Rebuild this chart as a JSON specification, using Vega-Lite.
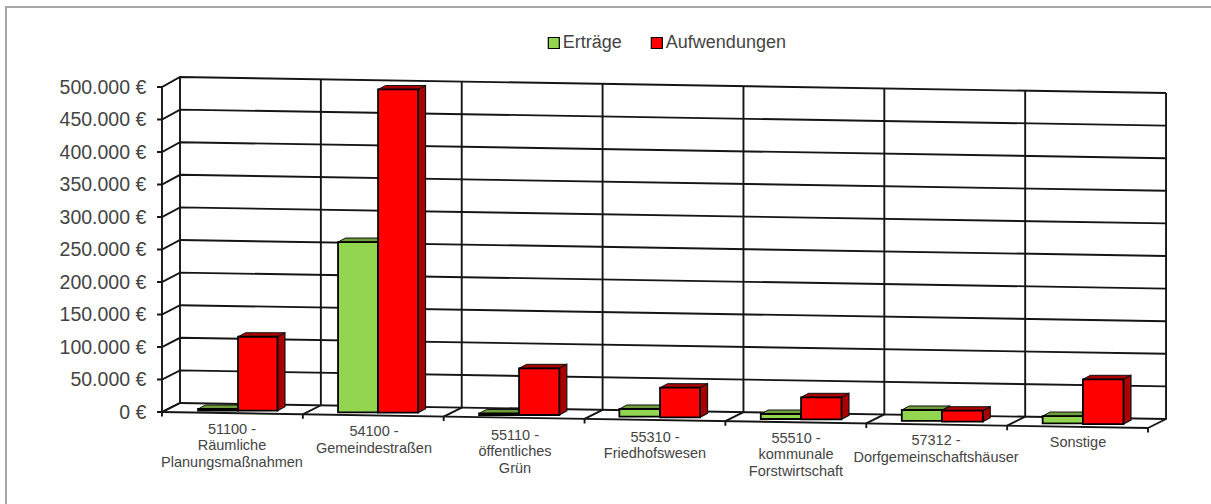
{"$schema":"https://vega.github.io/schema/vega-lite/v6.json","width":1028.3,"height":403,"autosize":{"type":"none"},"padding":{"left":151.83,"top":74,"right":30.87,"bottom":27},"background":"white","config":{"view":{"stroke":null},"font":"Liberation Sans"},
"datasets":{
"bars":[
{"category":"51100","series":"Erträge","value":2000,"start":0.128,"end":0.412,"base":2300,"top":4600},
{"category":"51100","series":"Aufwendungen","value":114000,"start":0.412,"end":0.692,"base":2000,"top":115800},
{"category":"54100","series":"Erträge","value":262000,"start":1.122,"end":1.406,"base":-500,"top":261500},
{"category":"54100","series":"Aufwendungen","value":497000,"start":1.406,"end":1.69,"base":-1100,"top":496200},
{"category":"55110","series":"Erträge","value":1000,"start":2.123,"end":2.407,"base":-4600,"top":-2300},
{"category":"55110","series":"Aufwendungen","value":72000,"start":2.407,"end":2.693,"base":-4600,"top":67200},
{"category":"55310","series":"Erträge","value":12000,"start":3.119,"end":3.408,"base":-7200,"top":4600},
{"category":"55310","series":"Aufwendungen","value":45500,"start":3.408,"end":3.692,"base":-8200,"top":37400},
{"category":"55510","series":"Erträge","value":7700,"start":4.123,"end":4.409,"base":-10800,"top":-3100},
{"category":"55510","series":"Aufwendungen","value":33800,"start":4.409,"end":4.696,"base":-11200,"top":22600},
{"category":"57312","series":"Erträge","value":17000,"start":5.124,"end":5.41,"base":-13800,"top":3100},
{"category":"57312","series":"Aufwendungen","value":17000,"start":5.41,"end":5.699,"base":-14900,"top":2000},
{"category":"Sonstige","series":"Erträge","value":11200,"start":6.124,"end":6.41,"base":-17400,"top":-6200},
{"category":"Sonstige","series":"Aufwendungen","value":68800,"start":6.41,"end":6.698,"base":-18500,"top":50300}
],
"labels":[
{"label":"51100 -\nRäumliche\nPlanungsmaßnahmen","x":0.369,"y":-16154},
{"label":"54100 -\nGemeindestraßen","x":1.377,"y":-20769},
{"label":"55110 -\nöffentliches\nGrün","x":2.378,"y":-25385},
{"label":"55310 -\nFriedhofswesen","x":3.372,"y":-28462},
{"label":"55510 -\nkommunale\nForstwirtschaft","x":4.373,"y":-30000},
{"label":"57312 -\nDorfgemeinschaftshäuser","x":5.367,"y":-34615},
{"label":"Sonstige","x":6.375,"y":-37692}
],
"frame":[{"i":0,"x":-1.2353,"y":-141538},{"i":1,"x":-1.2353,"y":623077},{"i":2,"x":7.319,"y":623077}],
"grid":[
{"g":"L0","i":0,"x":-0.163,"y":0},{"g":"L0","i":1,"x":-0.128,"y":0},{"g":"L0","i":2,"x":0,"y":13846},{"g":"L0","i":3,"x":7,"y":-10769},
{"g":"L50","i":0,"x":-0.163,"y":50000},{"g":"L50","i":1,"x":-0.128,"y":50000},{"g":"L50","i":2,"x":0,"y":64000},{"g":"L50","i":3,"x":7,"y":39385},
{"g":"L100","i":0,"x":-0.163,"y":100000},{"g":"L100","i":1,"x":-0.128,"y":100000},{"g":"L100","i":2,"x":0,"y":114154},{"g":"L100","i":3,"x":7,"y":89538},
{"g":"L150","i":0,"x":-0.163,"y":150000},{"g":"L150","i":1,"x":-0.128,"y":150000},{"g":"L150","i":2,"x":0,"y":164308},{"g":"L150","i":3,"x":7,"y":139692},
{"g":"L200","i":0,"x":-0.163,"y":200000},{"g":"L200","i":1,"x":-0.128,"y":200000},{"g":"L200","i":2,"x":0,"y":214462},{"g":"L200","i":3,"x":7,"y":189846},
{"g":"L250","i":0,"x":-0.163,"y":250000},{"g":"L250","i":1,"x":-0.128,"y":250000},{"g":"L250","i":2,"x":0,"y":264615},{"g":"L250","i":3,"x":7,"y":240000},
{"g":"L300","i":0,"x":-0.163,"y":300000},{"g":"L300","i":1,"x":-0.128,"y":300000},{"g":"L300","i":2,"x":0,"y":314769},{"g":"L300","i":3,"x":7,"y":290154},
{"g":"L350","i":0,"x":-0.163,"y":350000},{"g":"L350","i":1,"x":-0.128,"y":350000},{"g":"L350","i":2,"x":0,"y":364923},{"g":"L350","i":3,"x":7,"y":340308},
{"g":"L400","i":0,"x":-0.163,"y":400000},{"g":"L400","i":1,"x":-0.128,"y":400000},{"g":"L400","i":2,"x":0,"y":415077},{"g":"L400","i":3,"x":7,"y":390462},
{"g":"L450","i":0,"x":-0.163,"y":450000},{"g":"L450","i":1,"x":-0.128,"y":450000},{"g":"L450","i":2,"x":0,"y":465231},{"g":"L450","i":3,"x":7,"y":440615},
{"g":"L500","i":0,"x":-0.163,"y":500000},{"g":"L500","i":1,"x":-0.128,"y":500000},{"g":"L500","i":2,"x":0,"y":515385},{"g":"L500","i":3,"x":7,"y":490769},
{"g":"V0","i":0,"x":0,"y":515385},{"g":"V0","i":1,"x":0,"y":13846},{"g":"V0","i":2,"x":-0.128,"y":0},{"g":"V0","i":3,"x":-0.128,"y":-7000},
{"g":"V1","i":0,"x":1,"y":511869},{"g":"V1","i":1,"x":1,"y":10330},{"g":"V1","i":2,"x":0.872,"y":-3516},{"g":"V1","i":3,"x":0.872,"y":-10516},
{"g":"V2","i":0,"x":2,"y":508353},{"g":"V2","i":1,"x":2,"y":6814},{"g":"V2","i":2,"x":1.872,"y":-7032},{"g":"V2","i":3,"x":1.872,"y":-14032},
{"g":"V3","i":0,"x":3,"y":504837},{"g":"V3","i":1,"x":3,"y":3298},{"g":"V3","i":2,"x":2.872,"y":-10548},{"g":"V3","i":3,"x":2.872,"y":-17548},
{"g":"V4","i":0,"x":4,"y":501321},{"g":"V4","i":1,"x":4,"y":-218},{"g":"V4","i":2,"x":3.872,"y":-14064},{"g":"V4","i":3,"x":3.872,"y":-21064},
{"g":"V5","i":0,"x":5,"y":497805},{"g":"V5","i":1,"x":5,"y":-3734},{"g":"V5","i":2,"x":4.872,"y":-17580},{"g":"V5","i":3,"x":4.872,"y":-24580},
{"g":"V6","i":0,"x":6,"y":494289},{"g":"V6","i":1,"x":6,"y":-7250},{"g":"V6","i":2,"x":5.872,"y":-21096},{"g":"V6","i":3,"x":5.872,"y":-28096},
{"g":"V7","i":0,"x":7,"y":490773},{"g":"V7","i":1,"x":7,"y":-10766},{"g":"V7","i":2,"x":6.872,"y":-24612},{"g":"V7","i":3,"x":6.872,"y":-31612},
{"g":"Front","i":0,"x":-0.128,"y":0},{"g":"Front","i":1,"x":6.872,"y":-24612},
{"g":"Axis","i":0,"x":-0.128,"y":500000},{"g":"Axis","i":1,"x":-0.128,"y":0}
]},
"resolve":{"scale":{"color":"independent"}},
"layer":[
{"data":{"name":"frame"},"mark":{"type":"line","stroke":"#a6a6a6","strokeWidth":2,"clip":false},
"encoding":{"x":{"field":"x","type":"quantitative","scale":{"domain":[-0.2,7.1],"nice":false,"zero":false},"axis":null},
"y":{"field":"y","type":"quantitative","scale":{"domain":[-100000,520000],"nice":false,"zero":false},"title":null,
"axis":{"values":[0,50000,100000,150000,200000,250000,300000,350000,400000,450000,500000],"domain":false,"ticks":false,"grid":false,"labelFontSize":19.5,"labelColor":"#444444","labelPadding":6,"labelFont":"Liberation Sans","labelExpr":"replace(format(datum.value,',d'),',','.')+' €'"}},
"order":{"field":"i","type":"ordinal"}}},
{"data":{"name":"grid"},"mark":{"type":"line","stroke":"#151515","strokeWidth":1.9,"clip":false},
"encoding":{"x":{"field":"x","type":"quantitative"},"y":{"field":"y","type":"quantitative"},"detail":{"field":"g"},"order":{"field":"i","type":"quantitative"}}},
{"data":{"name":"bars"},
"transform":[{"calculate":"[0,1]","as":"t"},{"flatten":["t"]},{"calculate":"datum.end+0.053*datum.t","as":"sx"},{"calculate":"datum.top+6154*datum.t","as":"sy"},{"calculate":"datum.base+6154*datum.t","as":"sy2"}],
"mark":{"type":"area","stroke":"#111111","strokeWidth":1.2,"clip":false},
"encoding":{"x":{"field":"sx","type":"quantitative"},"y":{"field":"sy","type":"quantitative"},"y2":{"field":"sy2"},"detail":{"field":"category"},
"color":{"field":"series","type":"nominal","scale":{"domain":["Erträge","Aufwendungen"],"range":["#6F9E3A","#AA0000"]},"legend":null}}},
{"data":{"name":"bars"},
"transform":[{"calculate":"[0,1,2,3]","as":"t"},{"flatten":["t"]},
{"calculate":"[datum.start,datum.start+0.053,datum.end,datum.end+0.053][datum.t]","as":"tx"},
{"calculate":"[datum.top,datum.top+6154,datum.top+6154,datum.top+6154][datum.t]","as":"ty"},
{"calculate":"[datum.top,datum.top,datum.top,datum.top+6154][datum.t]","as":"ty2"}],
"mark":{"type":"area","stroke":"#111111","strokeWidth":1,"clip":false},
"encoding":{"x":{"field":"tx","type":"quantitative"},"y":{"field":"ty","type":"quantitative"},"y2":{"field":"ty2"},"detail":{"field":"category"},
"color":{"field":"series","type":"nominal","scale":{"domain":["Erträge","Aufwendungen"],"range":["#6F9E3A","#AA0000"]},"legend":null}}},
{"data":{"name":"bars"},"mark":{"type":"rect","stroke":"#000000","strokeWidth":1.8,"clip":false},
"encoding":{"x":{"field":"start","type":"quantitative"},"x2":{"field":"end"},"y":{"field":"top","type":"quantitative"},"y2":{"field":"base"},
"color":{"field":"series","type":"nominal","scale":{"domain":["Erträge","Aufwendungen"],"range":["#92D650","#FF0000"]},
"legend":{"orient":"none","legendX":393,"legendY":-40,"direction":"horizontal","title":null,"symbolType":"square","symbolSize":121,"symbolStrokeColor":"#000000","symbolStrokeWidth":1.2,"symbolOpacity":1,"labelFontSize":18,"labelColor":"#444444","labelFont":"Liberation Sans","columnPadding":25,"labelOffset":0}}}},
{"data":{"name":"labels"},"mark":{"type":"text","fontSize":14.5,"font":"Liberation Sans","color":"#444444","baseline":"top","align":"center","lineBreak":"\n","lineHeight":16.5,"clip":false},
"encoding":{"x":{"field":"x","type":"quantitative"},"y":{"field":"y","type":"quantitative"},"text":{"field":"label"}}}
]}
